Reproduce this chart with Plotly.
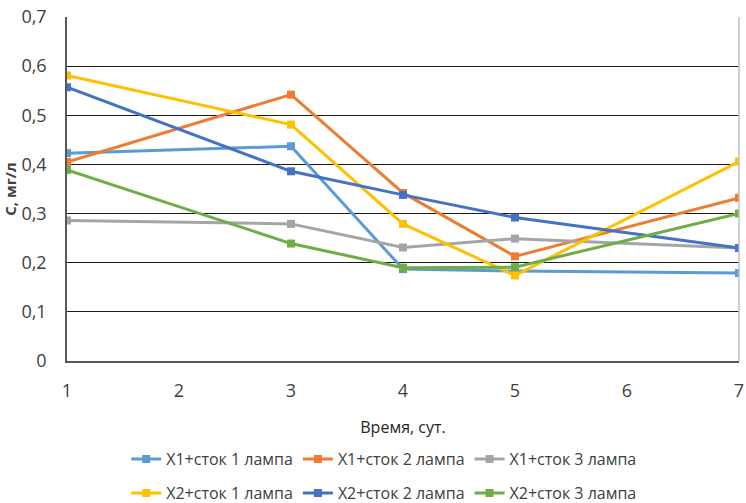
import plotly.graph_objects as go

days = [1, 3, 4, 5, 7]
x_ticks = [1, 2, 3, 4, 5, 6, 7]
y_ticks = [0, 0.1, 0.2, 0.3, 0.4, 0.5, 0.6, 0.7]
y_tick_labels = ["0", "0,1", "0,2", "0,3", "0,4", "0,5", "0,6", "0,7"]

x1_lamp1 = [0.423, 0.437, 0.187, 0.183, 0.179]
x1_lamp2 = [0.405, 0.542, 0.342, 0.213, 0.332]
x1_lamp3 = [0.286, 0.279, 0.231, 0.249, 0.230]
x2_lamp1 = [0.581, 0.481, 0.279, 0.174, 0.406]
x2_lamp2 = [0.557, 0.386, 0.338, 0.292, 0.230]
x2_lamp3 = [0.389, 0.239, 0.190, 0.191, 0.300]

series = [
    ("X1+сток 1 лампа", x1_lamp1, "#5B9BD5", "legend"),
    ("X1+сток 2 лампа", x1_lamp2, "#ED7D31", "legend"),
    ("X1+сток 3 лампа", x1_lamp3, "#A5A5A5", "legend"),
    ("X2+сток 1 лампа", x2_lamp1, "#FFC000", "legend2"),
    ("X2+сток 2 лампа", x2_lamp2, "#4472C4", "legend2"),
    ("X2+сток 3 лампа", x2_lamp3, "#70AD47", "legend2"),
]

FONT = "Open Sans, Noto Sans, sans-serif"
TEXT = "#404040"

fig = go.Figure()
for name, vals, color, leg in series:
    fig.add_trace(go.Scatter(
        x=days, y=vals, name=name, mode="lines+markers",
        line=dict(color=color, width=3),
        marker=dict(symbol="square", size=8, color=color),
        legend=leg,
    ))

legend_style = dict(
    orientation="h", xanchor="center", x=0.515, yanchor="middle",
    xref="container", yref="container",
    font=dict(family=FONT, size=16, color=TEXT),
    itemwidth=30, tracegroupgap=0, bgcolor="rgba(0,0,0,0)",
)

fig.update_layout(
    width=746, height=503,
    margin=dict(l=67, r=7, t=17, b=142),
    paper_bgcolor="white", plot_bgcolor="white",
    font=dict(family=FONT, size=15, color=TEXT),
    legend=dict(y=(503 - 459) / 503, **legend_style),
    legend2=dict(y=(503 - 493) / 503, **legend_style),
    xaxis=dict(
        range=[1, 7], tickvals=x_ticks, ticktext=[str(v) for v in x_ticks],
        automargin=False,
        showgrid=False, zeroline=False,
        showline=True, linecolor="#595959", linewidth=1.5,
        ticks="", ticklabelstandoff=13,
        tickfont=dict(family=FONT, size=18, color=TEXT),
        title=dict(text="Время, сут.", standoff=20,
                   font=dict(family=FONT, size=16, color="#262626")),
    ),
    yaxis=dict(
        range=[0, 0.7], tickvals=y_ticks, ticktext=y_tick_labels,
        automargin=False,
        showgrid=True, gridcolor="#1a1a1a", gridwidth=1,
        zeroline=False, showline=True, linecolor="#595959", linewidth=1.5,
        ticks="", ticklabelstandoff=15,
        tickfont=dict(family=FONT, size=18, color=TEXT),
        title=dict(text="<b>С, мг/л</b>", standoff=2,
                   font=dict(family=FONT, size=15, color=TEXT)),
    ),
    shapes=[dict(type="line", xref="paper", yref="paper", x0=1, x1=1, y0=0, y1=1,
                 line=dict(color="#BFBFBF", width=1.5))],
)

fig.write_html("out.html")
